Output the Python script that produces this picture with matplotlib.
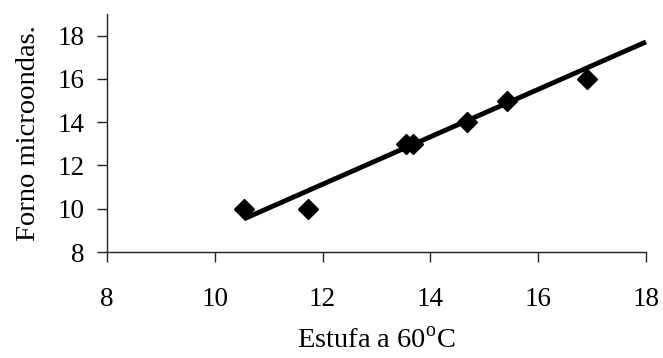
import matplotlib.pyplot as plt

# data
estufa = [10.54, 11.72, 13.54, 13.67, 14.68, 15.42, 16.91]
forno = [10, 10, 13, 13, 14, 15, 16]
trend_x = [10.54, 18.0]
trend_y = [9.53, 17.71]
xticks = [8, 10, 12, 14, 16, 18]
yticks = [8, 10, 12, 14, 16, 18]

plt.rcParams['font.family'] = ['Liberation Serif', 'DejaVu Serif']
plt.rcParams['mathtext.fontset'] = 'custom'
plt.rcParams['mathtext.rm'] = 'Liberation Serif'

fig = plt.figure(figsize=(6.63, 3.58), dpi=100)
ax = fig.add_axes([107 / 663, 1 - 252 / 358, 539 / 663, 238 / 358])

ax.plot(estufa, forno, linestyle='none', marker='D', markersize=10, color='black')
ax.plot(trend_x, trend_y, color='black', linewidth=3.5, solid_capstyle='butt', clip_on=False)

ax.set_xlim(8, 18)
ax.set_ylim(8, 19)
ax.set_xticks(xticks)
ax.set_yticks(yticks)
ax.tick_params(direction='out', length=7, width=1, labelsize=19.5, color='#222222')
ax.tick_params(axis='x', pad=18)
ax.tick_params(axis='y', pad=9)
ax.spines['top'].set_visible(False)
ax.spines['right'].set_visible(False)
for s in ['left', 'bottom']:
    ax.spines[s].set_linewidth(1)
    ax.spines[s].set_color('#222222')

ax.set_xlabel('Estufa a 60$^{\\rm o}$C', fontsize=20.5, labelpad=12)
ax.set_ylabel('Forno microondas.', fontsize=20.5, labelpad=12)

fig.savefig('out.png', dpi=100)
